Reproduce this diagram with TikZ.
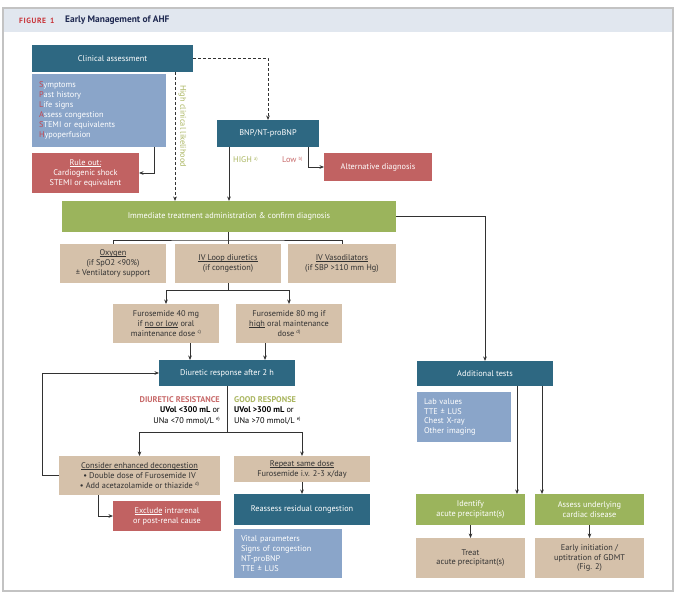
\documentclass[tikz,border=0pt]{standalone}
\usepackage{fontspec}
\setmainfont{PT Sans}
\usetikzlibrary{arrows.meta,calc}
\definecolor{tealc}{RGB}{46,104,130}
\definecolor{lblue}{RGB}{138,165,201}
\definecolor{redc}{RGB}{193,98,98}
\definecolor{greenc}{RGB}{155,180,92}
\definecolor{tanc}{RGB}{213,193,170}
\definecolor{olivec}{RGB}{170,182,96}
\definecolor{pinkc}{RGB}{200,106,106}
\definecolor{splred}{RGB}{196,70,80}
\definecolor{darktxt}{RGB}{50,50,50}
\definecolor{hdrc}{RGB}{225,231,239}
\definecolor{framec}{RGB}{195,195,195}
\definecolor{navyc}{RGB}{30,40,80}
\definecolor{figred}{RGB}{200,50,55}
\newcommand{\sups}[1]{\raisebox{0.6ex}{\fontsize{4.8}{5}\selectfont #1}}
\newcommand{\ulx}[1]{\setbox0\hbox{#1}\rlap{\rule[-1.1pt]{\wd0}{0.45pt}}\box0\relax}
\tikzset{
  box/.style={rectangle, inner sep=0pt, outer sep=0pt, align=center,
    font=\fontsize{8.3}{9.9}\selectfont},
  tealbox/.style={box, fill=tealc, text=white},
  bluebox/.style={box, fill=lblue, text=white, align=left},
  redbox/.style={box, fill=redc, text=white},
  greenbox/.style={box, fill=greenc, text=white},
  tanbox/.style={box, fill=tanc, text=darktxt},
  conn/.style={draw=darktxt, line width=0.8pt},
  arr/.style={conn, -{Stealth[length=4.5pt,width=3.6pt]}},
  dasharr/.style={arr, dash pattern=on 3pt off 2pt},
  lbl/.style={inner sep=0pt, font=\fontsize{8.3}{10.5}\selectfont}
}
\begin{document}
\begin{tikzpicture}[x=1pt,y=-1pt]
\useasboundingbox (0,0) rectangle (680,596);
\fill[white] (0,0) rectangle (680,596);
\fill[hdrc] (3,8) rectangle (673,32);
\draw[framec, line width=1.4pt] (3,8) rectangle (673,591);
\node[anchor=west, inner sep=0pt, text=figred, font=\fontsize{7.6}{8}\selectfont\bfseries] (fig) at (19,20.5) {F\kern0.6pt I\kern0.6pt G\kern0.6pt U\kern0.6pt R\kern0.6pt E\ \ 1};
\node[anchor=west, inner sep=0pt, text=navyc, font=\fontsize{9.4}{10}\selectfont\bfseries] (title) at (65,20.5) {Early Management of AHF};

% top area
\node[tealbox, minimum width=161pt, minimum height=27pt] (ca) at (112.5,58.5) {Clinical assessment};
\node[bluebox, minimum width=134pt, minimum height=73pt, text width=120pt, inner xsep=7pt] (splash) at (99,110.5)
 {\textcolor{splred}{S}ymptoms\\\textcolor{splred}{P}ast history\\\textcolor{splred}{L}ife signs\\\textcolor{splred}{A}ssess congestion\\\textcolor{splred}{S}TEMI or equivalents\\\textcolor{splred}{H}ypoperfusion};
\node[redbox, minimum width=107pt, minimum height=40pt] (ruleout) at (85.5,173) {\ulx{Rule out:}\\Cardiogenic shock\\STEMI or equivalent};
\node[tealbox, minimum width=102pt, minimum height=27pt] (bnp) at (268,133.5) {BNP/NT-proBNP};
\node[redbox, minimum width=108pt, minimum height=28pt] (alt) at (378,167) {Alternative diagnosis};
\node[lbl, text=olivec, rotate=-90] (hcl) at (182.5,126) {High clinical likelihood};
\node[lbl, text=olivec, anchor=west] (high) at (233,160) {HIGH \sups{a)}};
\node[lbl, text=pinkc, anchor=west] (low) at (282,160) {Low \sups{b)}};

\node[greenbox, minimum width=334pt, minimum height=31pt] (green) at (229,216.5) {Immediate treatment administration \& confirm diagnosis};

\node[tanbox, minimum width=106pt, minimum height=39pt] (oxy) at (113,263.5) {\ulx{Oxygen}\\(if SpO2 <90\%)\\± Ventilatory support};
\node[tanbox, minimum width=106pt, minimum height=39pt] (loop) at (228,263.5) {\ulx{IV Loop diuretics}\\(if congestion)};
\node[tanbox, minimum width=108pt, minimum height=39pt] (vaso) at (342,263.5) {\ulx{IV Vasodilators}\\(if SBP >110 mm Hg)};

\node[tanbox, minimum width=106pt, minimum height=39pt] (f40) at (166,323.5) {Furosemide 40 mg\\if \ulx{no or low} oral\\maintenance dose \sups{c)}};
\node[tanbox, minimum width=106pt, minimum height=39pt] (f80) at (289,323.5) {Furosemide 80 mg if\\\ulx{high} oral maintenance\\dose \sups{d)}};

\node[tealbox, minimum width=136pt, minimum height=26pt] (diur) at (227,373) {Diuretic response after 2 h};

\node[lbl, anchor=east, align=right] (resist) at (220,410.5) {\textcolor{pinkc}{\bfseries DIURETIC RESISTANCE}\\\textbf{UVol <300 mL} or\\UNa <70 mmol/L \sups{e)}};
\node[lbl, anchor=west, align=left] (good) at (234,410.5) {\textcolor{olivec}{\bfseries GOOD RESPONSE}\\\textbf{UVol >300 mL} or\\UNa >70 mmol/L \sups{e)}};

\node[tanbox, minimum width=161pt, minimum height=39pt] (consider) at (139.5,475.5) {\ulx{Consider enhanced decongestion}\\• Double dose of Furosemide IV\\• Add acetazolamide or thiazide \sups{d)}};
\node[redbox, minimum width=108pt, minimum height=30pt] (exclude) at (167,516) {\ulx{Exclude} intrarenal\\or post-renal cause};
\node[tanbox, minimum width=136pt, minimum height=26pt] (repeat) at (302,469) {\ulx{Repeat same dose}\\Furosemide i.v. 2-3 x/day};
\node[tealbox, minimum width=136pt, minimum height=31pt] (reassess) at (302,509.5) {Reassess residual congestion};
\node[bluebox, minimum width=108pt, minimum height=49pt, text width=94pt, inner xsep=7pt] (vital) at (288,553.5) {Vital parameters\\Signs of congestion\\NT-proBNP\\TTE ± LUS};

% right column
\node[tealbox, minimum width=136pt, minimum height=25pt] (addl) at (485,373.5) {Additional tests};
\node[bluebox, minimum width=94pt, minimum height=50pt, text width=80pt, inner xsep=7pt] (lab) at (464,417) {Lab values\\TTE ± LUS\\Chest X-ray\\Other imaging};
\node[greenbox, minimum width=109pt, minimum height=31pt] (ident) at (470.5,509.5) {Identify\\acute precipitant(s)};
\node[greenbox, minimum width=109pt, minimum height=31pt] (assess) at (589.5,509.5) {Assess underlying\\cardiac disease};
\node[tanbox, minimum width=109pt, minimum height=40pt] (treat) at (470.5,558) {Treat\\acute precipitant(s)};
\node[tanbox, minimum width=109pt, minimum height=40pt] (early) at (589.5,558) {Early initiation /\\uptitration of GDMT\\(Fig. 2)};

% helper coordinates
\coordinate (xdash) at (175,0);
\coordinate (xsr) at (154,0);
\coordinate (xlow) at (308,0);
\coordinate (b1) at (228,240);
\coordinate (b2) at (228,290);
\coordinate (x40) at (190,0);
\coordinate (x80) at (265,0);
\coordinate (b3) at (227,432);
\coordinate (xloop) at (42,0);
\coordinate (xex) at (98,0);
\coordinate (xa1) at (517,0);
\coordinate (xa2) at (542,0);

% connectors
\draw[arr] (splash.south -| xsr) |- (ruleout.east);
\draw[dasharr] (ca.south -| xdash) -- (green.north -| xdash);
\draw[dasharr] (ca.east) -| (bnp.north);
\draw[arr] (bnp.south -| green.north) -- (green.north);
\draw[arr] (bnp.south -| xlow) |- (alt.west);
\draw[conn] (green.south -| b1) -- (loop.north);
\draw[conn] (oxy.north) |- (b1) -| (vaso.north);
\draw[conn] (loop.south) -- (b2);
\draw[arr] (b2) -| (f40.north);
\draw[arr] (b2) -| (f80.north);
\draw[arr] (f40.south -| x40) -- (diur.north -| x40);
\draw[arr] (f80.south -| x80) -- (diur.north -| x80);
\draw[conn] (diur.south) -- (b3);
\draw[arr] (b3) -| (consider.north);
\draw[arr] (b3) -| (repeat.north);
\draw[arr] (consider.west) -| (xloop |- diur.west) -- (diur.west);
\draw[arr] (consider.south -| xex) |- (exclude.west);
\draw[arr] (repeat.south) -- (reassess.north);
\draw[arr] (green.east) -| (addl.north);
\draw[arr] (addl.south -| xa1) -- (ident.north -| xa1);
\draw[arr] (addl.south -| xa2) -- (assess.north -| xa2);
\draw[arr] (ident.south) -- (treat.north);
\draw[arr] (assess.south) -- (early.north);
\end{tikzpicture}
\end{document}
